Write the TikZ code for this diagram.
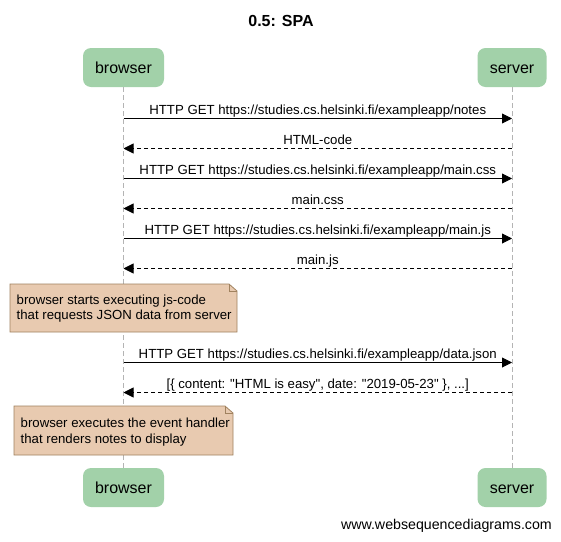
\documentclass[tikz,border=0pt]{standalone}
\usepackage{fontspec}
\setmainfont{Liberation Sans}[Ligatures=TeXOff]
\usetikzlibrary{arrows.meta}
\definecolor{actorfill}{HTML}{A2D1A9}
\definecolor{notefill}{HTML}{E8CAB0}
\definecolor{notedraw}{HTML}{A0825F}
\definecolor{lifegray}{HTML}{B4B4B4}
\tikzset{
  actor/.style={rounded corners=8pt, fill=actorfill, inner sep=0pt, minimum height=39pt, text height=15pt, text depth=3.4pt, font=\fontsize{16}{18}\selectfont},
  lifeline/.style={draw=lifegray, dash pattern=on 5pt off 3pt, line width=0.8pt},
  reqmsg/.style={-{Triangle[length=10pt,width=10pt]}, line width=0.9pt},
  resmsg/.style={-{Triangle[length=10pt,width=10pt]}, line width=0.9pt, dash pattern=on 4pt off 3pt},
  msglabel/.style={anchor=base, yshift=4.5pt, inner sep=0pt, font=\fontsize{13.2}{15}\selectfont},
  notebox/.style={fill=notefill, draw=notedraw, line width=0.8pt},
  notetext/.style={anchor=north west, inner sep=0pt, align=left, font=\fontsize{13.2}{15.7}\selectfont}
}
\begin{document}
\begin{tikzpicture}[x=1pt,y=-1pt]
\useasboundingbox[fill=white] (0,0) rectangle (561,541);
% title
\node[font=\bfseries\fontsize{16}{18}\selectfont] (title) at (281,20.5) {0.5: SPA};
% actors
\node[actor, minimum width=81pt] (browserTop) at (123.5,67.5) {browser};
\node[actor, minimum width=69pt] (serverTop) at (512,67.5) {server};
\node[actor, minimum width=81pt] (browserBot) at (123.5,487.5) {browser};
\node[actor, minimum width=69pt] (serverBot) at (512,487.5) {server};
% lifelines
\draw[lifeline] (browserTop.south) -- (browserBot.north);
\draw[lifeline] (serverTop.south) -- (serverBot.north);
% message anchor points
\foreach \i/\y in {1/118.5,2/148.5,3/178.5,4/208.5,5/238.5,6/268.5,7/362.5,8/392.5} {
  \coordinate (b\i) at (123.5,\y);
  \coordinate (s\i) at (512,\y);
}
\draw[reqmsg] (b1) -- (s1) node[midway, msglabel] {HTTP GET https://studies.cs.helsinki.fi/exampleapp/notes};
\draw[resmsg] (s2) -- (b2) node[midway, msglabel] {HTML-code};
\draw[reqmsg] (b3) -- (s3) node[midway, msglabel] {HTTP GET https://studies.cs.helsinki.fi/exampleapp/main.css};
\draw[resmsg] (s4) -- (b4) node[midway, msglabel] {main.css};
\draw[reqmsg] (b5) -- (s5) node[midway, msglabel] {HTTP GET https://studies.cs.helsinki.fi/exampleapp/main.js};
\draw[resmsg] (s6) -- (b6) node[midway, msglabel] {main.js};
\draw[reqmsg] (b7) -- (s7) node[midway, msglabel] {HTTP GET https://studies.cs.helsinki.fi/exampleapp/data.json};
\draw[resmsg] (s8) -- (b8) node[midway, msglabel] {[\{ content: "HTML is easy", date: "2019-05-23" \}, ...]};
% note 1
\draw[notebox] (10,284) -- (229,284) -- (237,291) -- (237,332) -- (10,332) -- cycle;
\draw[notedraw, line width=0.6pt] (229,284) -- (229,291) -- (237,291);
\node[notetext] (note1) at (16.5,294.4) {browser starts executing js-code\\that requests JSON data from server};
% note 2
\draw[notebox] (14,406) -- (225,406) -- (233,413) -- (233,455) -- (14,455) -- cycle;
\draw[notedraw, line width=0.6pt] (225,406) -- (225,413) -- (233,413);
\node[notetext] (note2) at (20.5,417.6) {browser executes the event handler\\that renders notes to display};
% footer
\node[anchor=base east, inner sep=0pt, font=\fontsize{14.2}{16}\selectfont] (footer) at (552,529) {www.websequencediagrams.com};
\end{tikzpicture}
\end{document}
